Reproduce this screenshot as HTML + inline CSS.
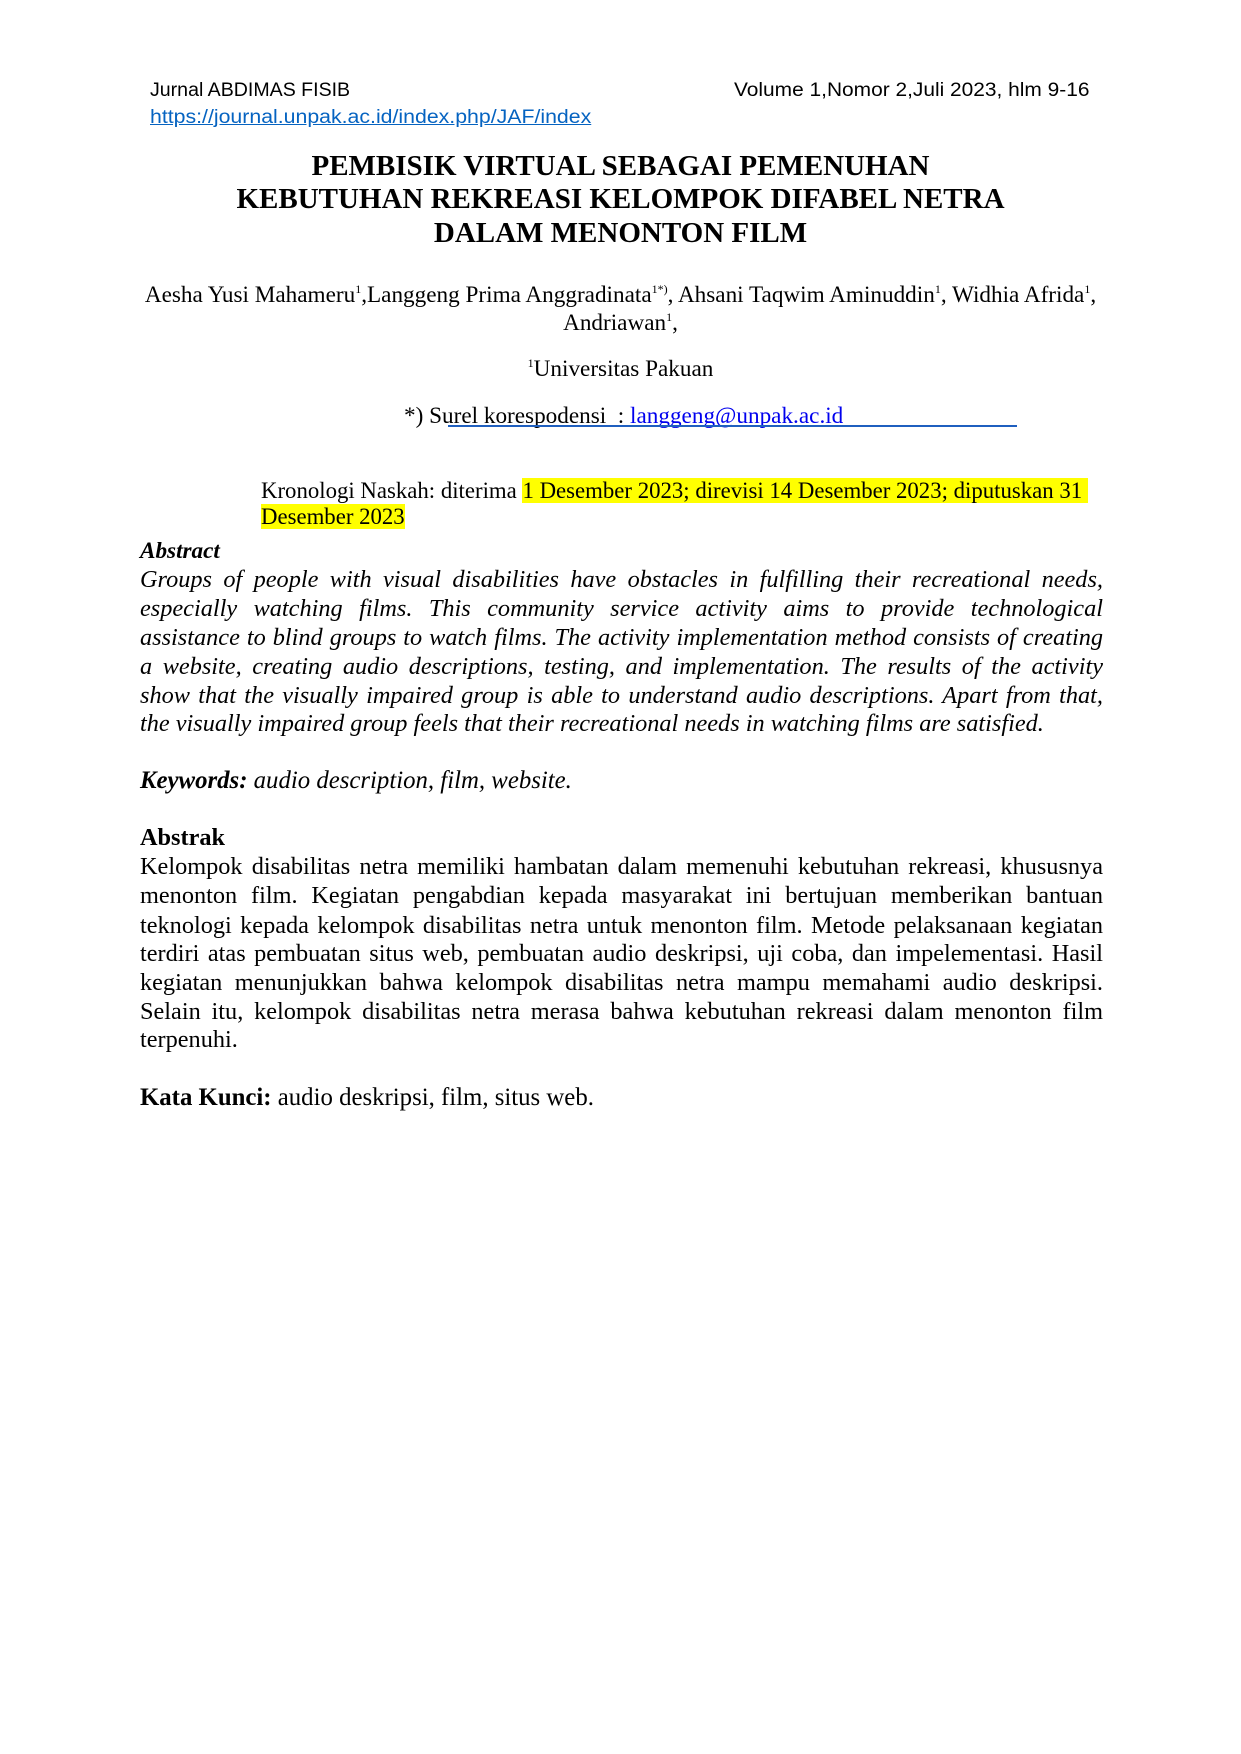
<!DOCTYPE html>
<html><head><meta charset="utf-8"><style>
body{margin:0;background:#fff;}
#p{position:relative;width:1241px;height:1754px;background:#fff;overflow:hidden;font-family:"Liberation Serif",serif;color:#000;}
.a{position:absolute;white-space:nowrap;line-height:29px;}
.s{font-family:"Liberation Sans",sans-serif;font-size:19px;transform-origin:left center;}
.t{font-weight:bold;font-size:29px;left:0;width:1241px;text-align:center;line-height:34px;}
.b{font-size:23.2px;}
.j{position:absolute;left:140px;width:963px;font-size:24.3px;line-height:29px;text-align:justify;text-align-last:justify;white-space:nowrap;}
.l{text-align-last:left;}
.i{font-style:italic;}
.hl{background:#ffff00;}
sup{font-size:12px;vertical-align:top;position:relative;top:-6px;}
</style></head><body><div id="p">
<div class="a s" style="left:150px;top:76px;transform:scaleX(1.03);">Jurnal ABDIMAS FISIB</div>
<div class="a s" style="left:734px;top:76px;transform:scaleX(1.10);">Volume 1,Nomor 2,Juli 2023, hlm 9-16</div>
<div class="a s" style="left:150px;top:103px;color:#0563c1;text-decoration:underline;transform:scaleX(1.12);">https://journal.unpak.ac.id/index.php/JAF/index</div>
<div class="a t" style="top:149px;">PEMBISIK VIRTUAL SEBAGAI PEMENUHAN</div>
<div class="a t" style="top:182px;">KEBUTUHAN REKREASI KELOMPOK DIFABEL NETRA</div>
<div class="a t" style="top:216px;">DALAM MENONTON FILM</div>
<div class="a b" style="left:0;width:1241px;text-align:center;top:281px;">Aesha Yusi Mahameru<sup>1</sup>,Langgeng Prima Anggradinata<sup>1*)</sup>, Ahsani Taqwim Aminuddin<sup>1</sup>, Widhia Afrida<sup>1</sup>,</div>
<div class="a b" style="left:0;width:1241px;text-align:center;top:309px;">Andriawan<sup>1</sup>,</div>
<div class="a b" style="left:0;width:1241px;text-align:center;top:355px;"><sup>1</sup>Universitas Pakuan</div>
<div class="a b" style="left:404px;top:402px;">*) Surel korespodensi &nbsp;: <span style="color:#0000ee;text-decoration:underline;">langgeng@unpak.ac.id</span></div>
<div style="position:absolute;left:448px;top:425px;width:569px;height:2px;background:#1f5fbf;"></div>
<div class="a b" style="left:261px;top:476px;font-size:22.8px;">Kronologi Naskah: diterima <span class="hl">1 Desember 2023; direvisi 14 Desember 2023; diputuskan 31&nbsp;</span></div>
<div class="a b" style="left:261px;top:502px;font-size:22.8px;"><span class="hl">Desember 2023</span></div>
<div class="a b i" style="left:140px;top:537px;font-weight:bold;">Abstract</div>
<div class="j i" style="top:565px;">Groups of people with visual disabilities have obstacles in fulfilling their recreational needs,</div>
<div class="j i" style="top:594px;">especially watching films. This community service activity aims to provide technological</div>
<div class="j i" style="top:623px;">assistance to blind groups to watch films. The activity implementation method consists of creating</div>
<div class="j i" style="top:652px;">a website, creating audio descriptions, testing, and implementation. The results of the activity</div>
<div class="j i" style="top:681px;">show that the visually impaired group is able to understand audio descriptions. Apart from that,</div>
<div class="j i l" style="top:709px;">the visually impaired group feels that their recreational needs in watching films are satisfied.</div>
<div class="j i l" style="top:766px;font-size:24.8px;"><b>Keywords:</b> audio description, film, website.</div>
<div class="j l" style="top:823px;font-weight:bold;">Abstrak</div>
<div class="j" style="top:852px;">Kelompok disabilitas netra memiliki hambatan dalam memenuhi kebutuhan rekreasi, khususnya</div>
<div class="j" style="top:881px;">menonton film. Kegiatan pengabdian kepada masyarakat ini bertujuan memberikan bantuan</div>
<div class="j" style="top:911px;">teknologi kepada kelompok disabilitas netra untuk menonton film. Metode pelaksanaan kegiatan</div>
<div class="j" style="top:939px;">terdiri atas pembuatan situs web, pembuatan audio deskripsi, uji coba, dan impelementasi. Hasil</div>
<div class="j" style="top:968px;">kegiatan menunjukkan bahwa kelompok disabilitas netra mampu memahami audio deskripsi.</div>
<div class="j" style="top:997px;">Selain itu, kelompok disabilitas netra merasa bahwa kebutuhan rekreasi dalam menonton film</div>
<div class="j l" style="top:1025px;">terpenuhi.</div>
<div class="j l" style="top:1083px;font-size:24.8px;"><b>Kata Kunci:</b> audio deskripsi, film, situs web.</div>
</div></body></html>
